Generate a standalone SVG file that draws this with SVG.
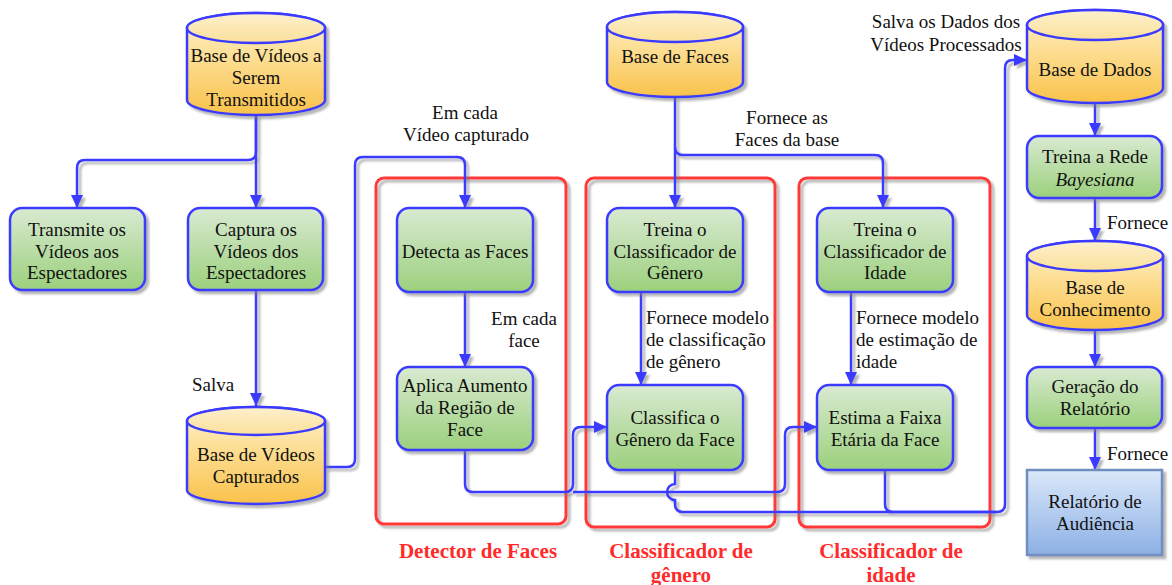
<svg xmlns="http://www.w3.org/2000/svg" width="1172" height="585" viewBox="0 0 1172 585" font-family="Liberation Serif, Times New Roman, serif" font-size="19">
  <defs>
    <linearGradient id="gGreen" x1="0" y1="0" x2="0" y2="1">
      <stop offset="0" stop-color="#d9ead2"/>
      <stop offset="1" stop-color="#9bd07c"/>
    </linearGradient>
    <linearGradient id="gYellow" x1="0" y1="0" x2="0" y2="1">
      <stop offset="0" stop-color="#fff3cc"/>
      <stop offset="1" stop-color="#f9c24a"/>
    </linearGradient>
    <linearGradient id="gYellowTop" x1="0" y1="0" x2="0" y2="1">
      <stop offset="0" stop-color="#fdf0cd"/>
      <stop offset="1" stop-color="#fbe09a"/>
    </linearGradient>
    <linearGradient id="gBlue" x1="0" y1="0" x2="0" y2="1">
      <stop offset="0" stop-color="#dbe8fa"/>
      <stop offset="1" stop-color="#8cb0e4"/>
    </linearGradient>
    <filter id="shadow" x="-10%" y="-10%" width="130%" height="130%">
      <feDropShadow dx="3" dy="3" stdDeviation="1.2" flood-color="#7a7a7a" flood-opacity="0.55"/>
    </filter>
    <marker id="arrow" markerUnits="userSpaceOnUse" markerWidth="14" markerHeight="12" refX="13" refY="6" orient="auto">
      <path d="M0,0 L13,6 L0,12 Z" fill="#3b3bff"/>
    </marker>
    <style>
      .node { stroke: #3b3bff; stroke-width: 2.5; filter: url(#shadow); }
      .proc { fill: url(#gGreen); }
      .cyl { fill: url(#gYellow); }
      .cyltop { fill: url(#gYellowTop); stroke: #3b3bff; stroke-width: 2.5; }
      .report { fill: url(#gBlue); stroke: #6f8fc0; stroke-width: 2.5; filter: url(#shadow); }
      .group { fill: none; stroke: #ff3838; stroke-width: 3; filter: url(#shadow); }
      .link { fill: none; stroke: #3b3bff; stroke-width: 2.5; }
      text { fill: #111; }
      .t { text-anchor: middle; }
      .title { font-weight: bold; font-size: 21px; fill: #ff2a2a; text-anchor: middle; }
    </style>
  </defs>

  <!-- group frames -->
  <g id="grp-detector">
    <rect class="group" x="376" y="178" width="190" height="346" rx="8"/>
    <text class="title" x="478" y="558">Detector de Faces</text>
  </g>
  <g id="grp-genero">
    <rect class="group" x="586" y="178" width="189" height="349" rx="8"/>
    <text class="title" x="681" y="558">Classificador de</text>
    <text class="title" x="681" y="582">gênero</text>
  </g>
  <g id="grp-idade">
    <rect class="group" x="799" y="178" width="191" height="349" rx="8"/>
    <text class="title" x="891" y="558">Classificador de</text>
    <text class="title" x="891" y="582">idade</text>
  </g>

  <!-- connectors -->
  <g id="connectors" filter="url(#shadow)">
    <path class="link" d="M256,115 V152 Q256,160 248,160 H85 Q77,160 77,168 V208" marker-end="url(#arrow)"/>
    <path class="link" d="M256,115 V208" marker-end="url(#arrow)"/>
    <path class="link" d="M256,290 V406" marker-end="url(#arrow)"/>
    <path class="link" d="M325,467 H347 Q355,467 355,459 V165 Q355,157 363,157 H457 Q465,157 465,165 V208" marker-end="url(#arrow)"/>
    <path class="link" d="M465,292 V367" marker-end="url(#arrow)"/>
    <path class="link" d="M465,450 V484 Q465,492 473,492 H565 Q573,492 573,484 V435 Q573,427 581,427 H607" marker-end="url(#arrow)"/>
    <path class="link" d="M573,492 H777 Q785,492 785,484 V435 Q785,427 793,427 H817" marker-end="url(#arrow)"/>
    <path class="link" d="M675,470 V484 A8,8 0 0 0 675,500 V504 Q675,512 683,512 H997 Q1005,512 1005,504 V68 Q1005,60 1013,60 H1027" marker-end="url(#arrow)"/>
    <path class="link" d="M885,470 V504 Q885,512 893,512 H997"/>
    <path class="link" d="M675,97 V208" marker-end="url(#arrow)"/>
    <path class="link" d="M675,147 Q675,155 683,155 H875 Q883,155 883,163 V208" marker-end="url(#arrow)"/>
    <path class="link" d="M641,292 V385" marker-end="url(#arrow)"/>
    <path class="link" d="M851,292 V385" marker-end="url(#arrow)"/>
    <path class="link" d="M1095,103 V136" marker-end="url(#arrow)"/>
    <path class="link" d="M1095,198 V241" marker-end="url(#arrow)"/>
    <path class="link" d="M1095,330 V367" marker-end="url(#arrow)"/>
    <path class="link" d="M1095,428 V470" marker-end="url(#arrow)"/>
  </g>

  <!-- connector labels -->
  <g id="labels">
    <text class="t" x="465" y="119">Em cada</text>
    <text class="t" x="466" y="141">Vídeo capturado</text>
    <text class="t" x="213" y="391">Salva</text>
    <text class="t" x="524" y="325">Em cada</text>
    <text class="t" x="524" y="347">face</text>
    <text class="t" x="787" y="124">Fornece as</text>
    <text class="t" x="787" y="146">Faces da base</text>
    <text x="646" y="324">Fornece modelo</text>
    <text x="646" y="346">de classificação</text>
    <text x="646" y="368">de gênero</text>
    <text x="856" y="324">Fornece modelo</text>
    <text x="856" y="346">de estimação de</text>
    <text x="856" y="368">idade</text>
    <text class="t" x="946" y="28">Salva os Dados dos</text>
    <text class="t" x="946" y="51">Vídeos Processados</text>
    <text x="1107" y="229">Fornece</text>
    <text x="1107" y="460">Fornece</text>
  </g>

  <!-- databases -->
  <g id="db-transmitir">
    <path class="node cyl" d="M187,28 A69,15 0 0 1 325,28 V100 A69,15 0 0 1 187,100 Z"/>
    <path class="cyltop" d="M187,28 A69,15 0 0 1 325,28 A69,15 0 0 1 187,28 Z"/>
    <text class="t" x="256" y="62">Base de Vídeos a</text>
    <text class="t" x="256" y="84">Serem</text>
    <text class="t" x="256" y="106">Transmitidos</text>
  </g>
  <g id="db-capturados">
    <path class="node cyl" d="M187,421 A69,14 0 0 1 325,421 V490 A69,14 0 0 1 187,490 Z"/>
    <path class="cyltop" d="M187,421 A69,14 0 0 1 325,421 A69,14 0 0 1 187,421 Z"/>
    <text class="t" x="256" y="461">Base de Vídeos</text>
    <text class="t" x="256" y="483">Capturados</text>
  </g>
  <g id="db-faces">
    <path class="node cyl" d="M607,27 A68,15 0 0 1 743,27 V82 A68,15 0 0 1 607,82 Z"/>
    <path class="cyltop" d="M607,27 A68,15 0 0 1 743,27 A68,15 0 0 1 607,27 Z"/>
    <text class="t" x="675" y="63">Base de Faces</text>
  </g>
  <g id="db-dados">
    <path class="node cyl" d="M1027,25 A68,15 0 0 1 1163,25 V88 A68,15 0 0 1 1027,88 Z"/>
    <path class="cyltop" d="M1027,25 A68,15 0 0 1 1163,25 A68,15 0 0 1 1027,25 Z"/>
    <text class="t" x="1095" y="76">Base de Dados</text>
  </g>
  <g id="db-conhecimento">
    <path class="node cyl" d="M1027,256 A68,15 0 0 1 1163,256 V315 A68,15 0 0 1 1027,315 Z"/>
    <path class="cyltop" d="M1027,256 A68,15 0 0 1 1163,256 A68,15 0 0 1 1027,256 Z"/>
    <text class="t" x="1095" y="294">Base de</text>
    <text class="t" x="1095" y="316">Conhecimento</text>
  </g>

  <!-- process nodes -->
  <g id="transmite">
    <rect class="node proc" x="10" y="208" width="135" height="82" rx="12"/>
    <text class="t" x="77" y="236">Transmite os</text>
    <text class="t" x="77" y="258">Vídeos aos</text>
    <text class="t" x="77" y="279">Espectadores</text>
  </g>
  <g id="captura">
    <rect class="node proc" x="188" y="208" width="135" height="82" rx="12"/>
    <text class="t" x="256" y="236">Captura os</text>
    <text class="t" x="256" y="258">Vídeos dos</text>
    <text class="t" x="256" y="279">Espectadores</text>
  </g>
  <g id="detecta">
    <rect class="node proc" x="397" y="208" width="136" height="84" rx="12"/>
    <text class="t" x="465" y="258">Detecta as Faces</text>
  </g>
  <g id="aplica">
    <rect class="node proc" x="397" y="367" width="136" height="83" rx="12"/>
    <text class="t" x="465" y="392">Aplica Aumento</text>
    <text class="t" x="465" y="414">da Região de</text>
    <text class="t" x="465" y="436">Face</text>
  </g>
  <g id="treina-genero">
    <rect class="node proc" x="607" y="208" width="136" height="84" rx="12"/>
    <text class="t" x="675" y="236">Treina o</text>
    <text class="t" x="675" y="258">Classificador de</text>
    <text class="t" x="675" y="279">Gênero</text>
  </g>
  <g id="classifica">
    <rect class="node proc" x="607" y="385" width="136" height="85" rx="12"/>
    <text class="t" x="675" y="424">Classifica o</text>
    <text class="t" x="675" y="446">Gênero da Face</text>
  </g>
  <g id="treina-idade">
    <rect class="node proc" x="817" y="208" width="136" height="84" rx="12"/>
    <text class="t" x="885" y="236">Treina o</text>
    <text class="t" x="885" y="258">Classificador de</text>
    <text class="t" x="885" y="279">Idade</text>
  </g>
  <g id="estima">
    <rect class="node proc" x="817" y="385" width="136" height="85" rx="12"/>
    <text class="t" x="885" y="424">Estima a Faixa</text>
    <text class="t" x="885" y="446">Etária da Face</text>
  </g>
  <g id="treina-rede">
    <rect class="node proc" x="1027" y="136" width="135" height="62" rx="12"/>
    <text class="t" x="1095" y="163">Treina a Rede</text>
    <text class="t" x="1095" y="186" font-style="italic">Bayesiana</text>
  </g>
  <g id="geracao">
    <rect class="node proc" x="1027" y="367" width="135" height="61" rx="12"/>
    <text class="t" x="1095" y="393">Geração do</text>
    <text class="t" x="1095" y="415">Relatório</text>
  </g>
  <g id="relatorio">
    <rect class="report" x="1027" y="470" width="135" height="85"/>
    <text class="t" x="1095" y="508">Relatório de</text>
    <text class="t" x="1095" y="530">Audiência</text>
  </g>
</svg>
